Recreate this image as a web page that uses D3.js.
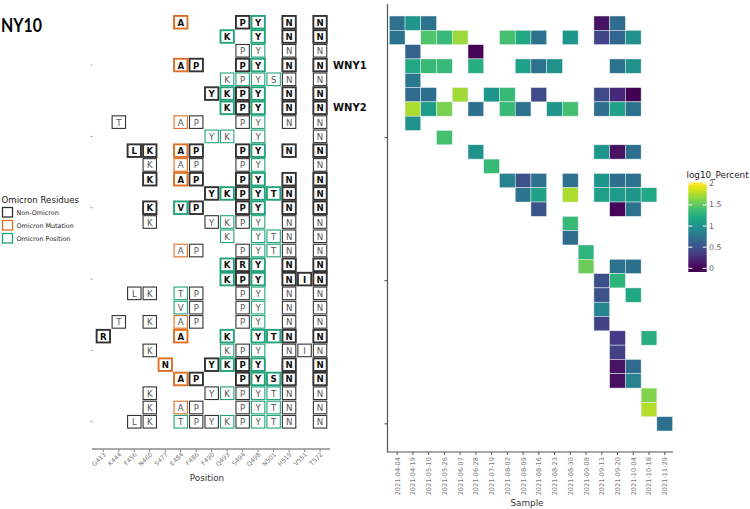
<!DOCTYPE html>
<html><head><meta charset="utf-8">
<script src="https://cdn.jsdelivr.net/npm/d3@7"></script>
<style>body{margin:0;background:#fff}svg{display:block;font-family:"DejaVu Sans",sans-serif}</style>
</head><body>
<svg id="c" width="750" height="509"></svg>
<script>
// ---------------- data ----------------
const positions = ["G413","K444","F456","N460","S477","E484","F486","F490","Q493","S494","Q498","N501","H519","V551","T572"];
// one string per variant row, one character per position ('.' = no residue shown)
const residueRows = [
  ".....A...PY.N.N",
  "........K.Y.N.N",
  ".........PY.N.N",
  ".....AP..PY.N.N",
  "........KPYSN.N",
  ".......YKPY.N.N",
  "........KPY.N.N",
  ".T...AP..PY.N.N",
  ".......YK.Y...N",
  "..LK.AP..PY.N.N",
  "...K.AP..PY...N",
  "...K.AP..PY.N.N",
  ".......YKPYTN.N",
  "...K.VP..PY.N.N",
  "...K...YKPY.N.N",
  "........K.YTN.N",
  ".....AP..PYTN.N",
  "........KRY.N.N",
  "........KPY.NIN",
  "..LK.TP..PY.N.N",
  ".....VP..PY.N.N",
  ".T.K.AP..PY.N.N",
  "R....A..K.YTN.N",
  "...K....KPY.NIN",
  "....N..YKPY.N.N",
  ".....AP..PYSN.N",
  "...K...YKPYTN.N",
  "...K.AP..PYTN.N",
  "..LK.TPYKPYTN.N"
];
const boldRows = [0,1,3,5,6,9,11,12,13,17,18,22,24,25];
const omicronMutations = {S477:"N", E484:"A", Q493:"R", Q498:"R", N501:"Y"};
const omicronPositions = ["S477","E484","Q493","Q498","N501"];
const categoryOverrides = [[4,"S494","Omicron Position"],[8,"F490","Omicron Position"]];
const rowLabels = [[3,"WNY1"],[6,"WNY2"]];
const legendKeys = ["Non-Omicron","Omicron Mutation","Omicron Position"];
const leftTickRows = [3,8,13,18,23,28];

const samples = ["2021-04-04","2021-04-19","2021-05-10","2021-05-26","2021-06-07","2021-06-28","2021-07-19","2021-08-02","2021-08-09","2021-08-16","2021-08-23","2021-08-30","2021-09-08","2021-09-13","2021-09-20","2021-10-04","2021-10-18","2021-11-29"];
// [row, sample, log10_Percent]
const heatCells = [
  [0,"2021-04-04",0.74],[0,"2021-04-19",1.04],[0,"2021-05-10",0.76],[0,"2021-09-13",0.10],[0,"2021-09-20",0.70],
  [1,"2021-04-04",0.75],[1,"2021-05-10",1.45],[1,"2021-05-26",1.35],[1,"2021-06-07",1.70],[1,"2021-08-02",1.40],[1,"2021-08-09",1.20],[1,"2021-08-16",0.75],[1,"2021-08-30",1.05],[1,"2021-09-13",0.40],[1,"2021-09-20",0.65],[1,"2021-10-04",1.00],
  [2,"2021-04-19",0.62],[2,"2021-06-28",0.02],
  [3,"2021-04-19",1.20],[3,"2021-05-10",1.35],[3,"2021-05-26",1.35],[3,"2021-06-28",1.25],[3,"2021-08-09",1.15],[3,"2021-08-16",0.75],[3,"2021-08-23",1.00],[3,"2021-09-20",0.75],[3,"2021-10-04",1.00],
  [4,"2021-04-19",0.80],
  [5,"2021-04-19",0.70],[5,"2021-05-10",0.72],[5,"2021-06-07",1.72],[5,"2021-07-19",1.05],[5,"2021-08-02",1.35],[5,"2021-08-16",0.45],[5,"2021-09-13",0.45],[5,"2021-09-20",0.22],[5,"2021-10-04",0.00],
  [6,"2021-04-19",1.75],[6,"2021-05-10",1.10],[6,"2021-05-26",1.60],[6,"2021-06-28",0.72],[6,"2021-08-02",1.35],[6,"2021-08-09",0.75],[6,"2021-08-23",1.05],[6,"2021-08-30",1.40],[6,"2021-09-13",0.72],[6,"2021-09-20",1.15],[6,"2021-10-04",0.75],
  [7,"2021-04-19",1.00],
  [8,"2021-05-26",1.40],
  [9,"2021-06-28",1.00],[9,"2021-09-13",1.05],[9,"2021-09-20",0.10],[9,"2021-10-04",0.72],
  [10,"2021-07-19",1.35],
  [11,"2021-08-02",0.88],[11,"2021-08-09",0.50],[11,"2021-08-16",0.75],[11,"2021-08-30",0.75],[11,"2021-09-13",1.05],[11,"2021-09-20",0.72],[11,"2021-10-04",0.75],
  [12,"2021-08-09",0.77],[12,"2021-08-16",1.15],[12,"2021-08-30",1.75],[12,"2021-09-13",1.12],[12,"2021-09-20",1.10],[12,"2021-10-04",1.05],[12,"2021-10-18",1.20],
  [13,"2021-08-16",0.50],[13,"2021-09-20",0.03],[13,"2021-10-04",0.75],
  [14,"2021-08-30",1.35],
  [15,"2021-08-30",0.70],
  [16,"2021-09-08",1.30],
  [17,"2021-09-08",1.55],[17,"2021-09-20",0.75],[17,"2021-10-04",0.72],
  [18,"2021-09-13",0.48],[18,"2021-09-20",1.30],
  [19,"2021-09-13",0.50],[19,"2021-10-04",1.20],
  [20,"2021-09-13",0.90],
  [21,"2021-09-13",0.38],
  [22,"2021-09-20",0.35],[22,"2021-10-18",1.25],
  [23,"2021-09-20",0.38],
  [24,"2021-09-20",0.10],[24,"2021-10-04",0.68],
  [25,"2021-09-20",0.08],[25,"2021-10-04",0.88],
  [26,"2021-10-18",1.62],
  [27,"2021-10-18",1.77],
  [28,"2021-11-29",0.72]
];
const heatTickRows = [8,18,28];
const colorTicks = [0,0.5,1,1.5,2];

// ---------------- drawing ----------------
const svg = d3.select("#c");
const rows = d3.range(residueRows.length);

svg.append("text").attr("x",1).attr("y",32).attr("font-family","Lato, 'Open Sans', sans-serif")
  .attr("font-weight","bold").attr("font-size",19).attr("textLength",41).attr("lengthAdjust","spacingAndGlyphs")
  .attr("fill","#000").text("NY10");

// ---- left panel ----
const xL = d3.scaleBand().domain(positions).range([95.6, 327.8]);
const yL = d3.scaleBand().domain(rows).range([15.1, 428.9]);
const cat = d3.scaleOrdinal().domain(legendKeys).range(["#333333","#de6f25","#22a27b"]);
const overrideMap = new Map(categoryOverrides.map(d => [d[0]+"|"+d[1], d[2]]));

const cells = [];
residueRows.forEach((s, r) => {
  s.split("").forEach((ch, i) => {
    if (ch === ".") return;
    const pos = positions[i];
    let c = omicronMutations[pos] === ch ? "Omicron Mutation" :
            omicronPositions.includes(pos) ? "Omicron Position" : "Non-Omicron";
    if (overrideMap.has(r+"|"+pos)) c = overrideMap.get(r+"|"+pos);
    cells.push({row: r, pos, res: ch, cat: c, bold: boldRows.includes(r)});
  });
});
cells.sort((a,b) => (a.cat === "Non-Omicron" ? 0 : 1) - (b.cat === "Non-Omicron" ? 0 : 1));

const tw = 13.4, th = 12.6;
const gL = svg.append("g");
gL.selectAll("rect.t").data(cells).join("rect").attr("class","t")
  .attr("x", d => xL(d.pos) + (xL.bandwidth()-tw)/2)
  .attr("y", d => yL(d.row) + (yL.bandwidth()-th)/2)
  .attr("width", tw).attr("height", th)
  .attr("fill","#fff")
  .attr("stroke", d => cat(d.cat))
  .attr("stroke-width", d => d.bold ? 1.9 : 1.1);
gL.selectAll("text.r").data(cells).join("text").attr("class","r")
  .attr("x", d => xL(d.pos) + xL.bandwidth()/2)
  .attr("y", d => yL(d.row) + yL.bandwidth()/2 + 0.5)
  .attr("text-anchor","middle").attr("dominant-baseline","central")
  .attr("font-size", 8.6)
  .attr("font-weight", d => d.bold ? "bold" : "normal")
  .attr("fill", d => d.bold ? "#111" : "#555")
  .text(d => d.res);

svg.selectAll("text.wl").data(rowLabels).join("text").attr("class","wl")
  .attr("x", 333).attr("y", d => yL(d[0]) + yL.bandwidth()/2)
  .attr("dominant-baseline","central").attr("font-weight","bold").attr("font-size",10)
  .attr("fill","#111").text(d => d[1]);

// left y ticks
svg.selectAll("line.lyt").data(leftTickRows).join("line").attr("class","lyt")
  .attr("x1",90.5).attr("x2",92.5)
  .attr("y1", d => yL(d) + yL.bandwidth()/2).attr("y2", d => yL(d) + yL.bandwidth()/2)
  .attr("stroke","#999").attr("stroke-width",1);

// left x axis
const axL = svg.append("g").attr("transform","translate(0,449)")
  .call(d3.axisBottom(xL).tickSize(3).tickSizeOuter(0));
axL.select(".domain").attr("d","M92,0H330").attr("stroke","#8c8c8c").attr("stroke-width",1.5);
axL.selectAll(".tick line").attr("stroke","#8c8c8c").attr("stroke-width",1);
axL.selectAll(".tick text").attr("font-size",6.2).attr("fill","#777").attr("font-family","DejaVu Sans")
  .attr("text-anchor","end").attr("dy",0).attr("y",0)
  .attr("transform","translate(3,6) rotate(-45)");
svg.append("text").attr("x",207).attr("y",481).attr("text-anchor","middle")
  .attr("font-size",8.8).attr("fill","#333").text("Position");

// left legend
svg.append("text").attr("x",1.5).attr("y",203).attr("font-size",8.6).attr("fill","#222").text("Omicron Residues");
const lg = svg.selectAll("g.lk").data(legendKeys).join("g").attr("class","lk")
  .attr("transform",(d,i) => `translate(2.5,${207.5 + i*13})`);
lg.append("rect").attr("width",10).attr("height",9.5).attr("fill","#fff")
  .attr("stroke", d => cat(d)).attr("stroke-width",1.3);
lg.append("text").attr("x",14).attr("y",5).attr("dominant-baseline","central")
  .attr("font-size",6.4).attr("fill","#222").text(d => d);

// ---- heatmap ----
const xH = d3.scaleBand().domain(samples).range([389.3, 672.6]);
const yH = d3.scaleBand().domain(rows).range([16, 431]);
const col = d3.scaleSequential(d3.interpolateViridis).domain([0,2]).clamp(true);

svg.append("g").selectAll("rect").data(heatCells).join("rect")
  .attr("x", d => xH(d[1])).attr("y", d => yH(d[0]))
  .attr("width", xH.bandwidth()).attr("height", yH.bandwidth())
  .attr("fill", d => col(d[2])).attr("stroke","#e8f0f0").attr("stroke-width",0.5);

svg.append("line").attr("x1",387.5).attr("x2",387.5).attr("y1",4).attr("y2",452.5)
  .attr("stroke","#555").attr("stroke-width",1.2);
svg.selectAll("line.hyt").data(heatTickRows).join("line").attr("class","hyt")
  .attr("x1",384.5).attr("x2",387.5)
  .attr("y1", d => yH(d) + yH.bandwidth()/2).attr("y2", d => yH(d) + yH.bandwidth()/2)
  .attr("stroke","#444").attr("stroke-width",1);

const axH = svg.append("g").attr("transform","translate(0,452)")
  .call(d3.axisBottom(xH).tickSize(3).tickSizeOuter(0));
axH.select(".domain").attr("d","M387,0H673").attr("stroke","#555").attr("stroke-width",1.2);
axH.selectAll(".tick line").attr("stroke","#555");
axH.selectAll(".tick text").attr("font-size",6.6).attr("fill","#777").attr("font-family","DejaVu Sans")
  .attr("text-anchor","end").attr("dy",0).attr("y",0)
  .attr("transform","translate(2.5,5) rotate(-90)");
svg.append("text").attr("x",527).attr("y",506).attr("text-anchor","middle")
  .attr("font-size",8.8).attr("fill","#333").text("Sample");

// colour bar
const barTop = 182.5, barH = 89.5, barX = 688.3, barW = 18.4;
const yC = d3.scaleLinear().domain([0,2]).range([268.3, 183.8]);
const grad = svg.append("defs").append("linearGradient").attr("id","vg")
  .attr("x1",0).attr("x2",0).attr("y1",1).attr("y2",0);
d3.range(0, 2.0001, 0.1).forEach(v => {
  grad.append("stop").attr("offset", (barTop + barH - yC(v)) / barH).attr("stop-color", col(v));
});
svg.append("rect").attr("x",barX).attr("y",barTop).attr("width",barW).attr("height",barH).attr("fill","url(#vg)");
colorTicks.forEach(t => {
  [[barX, barX+4],[barX+barW-4, barX+barW]].forEach(p => {
    svg.append("line").attr("x1",p[0]).attr("x2",p[1]).attr("y1",yC(t)).attr("y2",yC(t))
      .attr("stroke","#fff").attr("stroke-width",1);
  });
});
svg.selectAll("text.ct").data(colorTicks).join("text").attr("class","ct")
  .attr("x",709).attr("y", d => yC(d)).attr("dominant-baseline","central")
  .attr("font-size",7.8).attr("fill","#666").text(d => d);
svg.append("text").attr("x",686.5).attr("y",178).attr("font-size",8.8).attr("fill","#222").text("log10_Percent");
</script>
</body></html>
